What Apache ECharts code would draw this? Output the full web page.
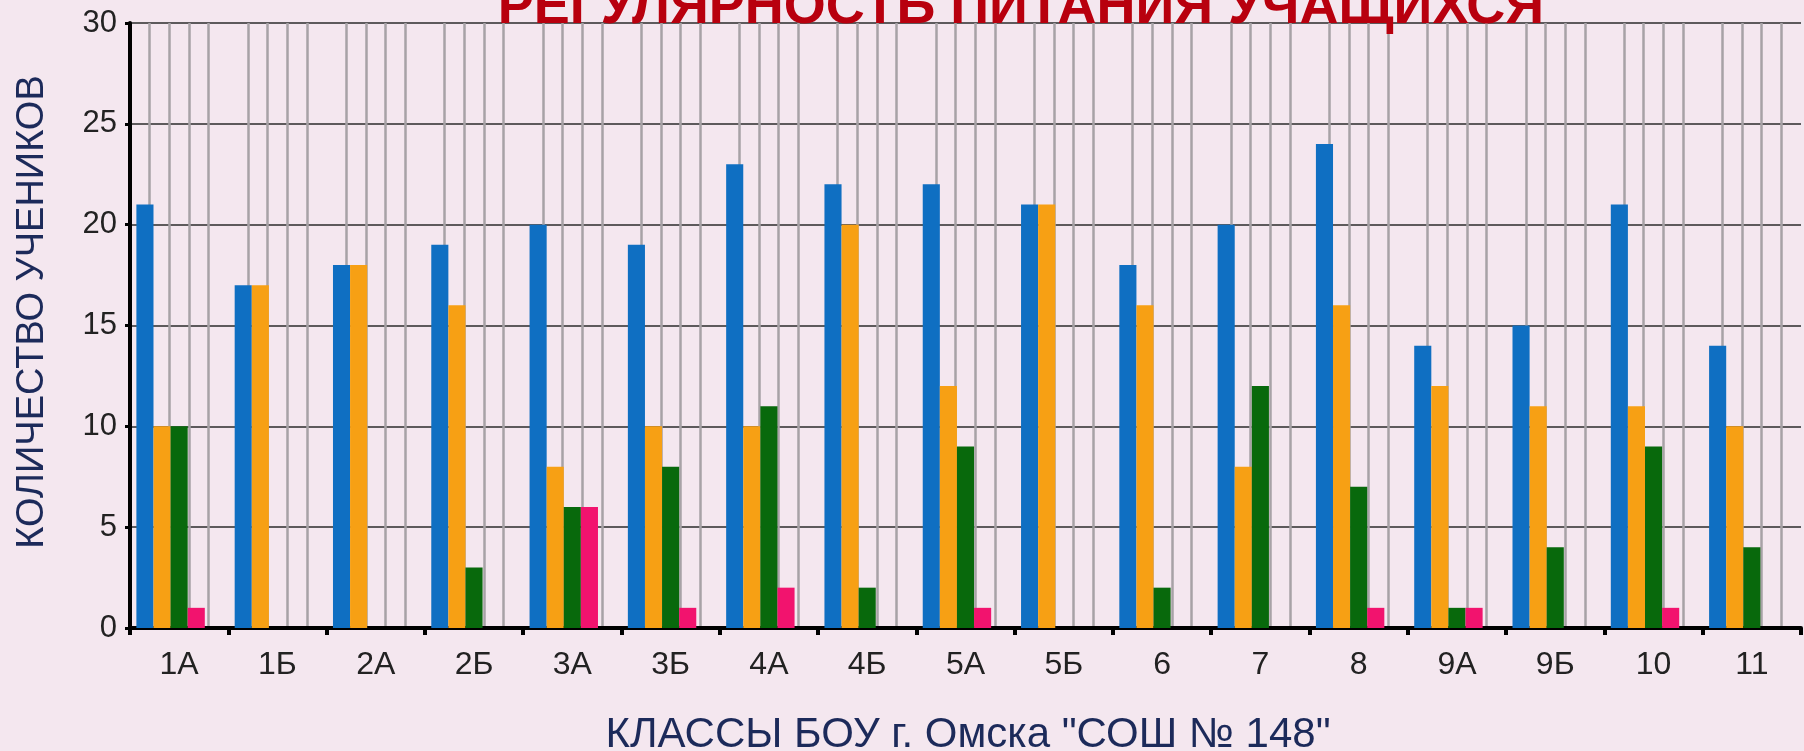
<!DOCTYPE html>
<html>
<head>
<meta charset="utf-8">
<script src="https://cdn.jsdelivr.net/npm/echarts@6/dist/echarts.min.js"></script>
<style>
  html, body { margin: 0; padding: 0; background: #f4e7ef; }
  #chart { width: 1804px; height: 751px; }
</style>
</head>
<body>
<div id="chart"></div>
<script>
// классы
const categories = ['1А', '1Б', '2А', '2Б', '3А', '3Б', '4А', '4Б', '5А', '5Б', '6', '7', '8', '9А', '9Б', '10', '11'];

// значения по сериям
const blueVals   = [21, 17, 18, 19, 20, 19, 23, 22, 22, 21, 18, 20, 24, 14, 15, 21, 14];
const orangeVals = [10, 17, 18, 16, 8, 10, 10, 20, 12, 21, 16, 8, 16, 12, 11, 11, 10];
const greenVals  = [10, 0, 0, 3, 6, 8, 11, 2, 9, 0, 2, 12, 7, 1, 4, 9, 4];
const pinkVals   = [1, 0, 0, 0, 6, 1, 2, 0, 1, 0, 0, 0, 1, 1, 0, 1, 0];
const fifthVals  = [0, 0, 0, 0, 0, 0, 0, 0, 0, 0, 0, 0, 0, 0, 0, 0, 0];

const yTicks = [0, 5, 10, 15, 20, 25, 30];

const colors = ['#0f6fc2', '#f7a014', '#08690c', '#f2136e', '#888888'];

const chartDom = document.getElementById('chart');
const myChart = echarts.init(chartDom);

const font = 'Liberation Sans, Arial, sans-serif';

function bar(data, i) {
    return {
        type: 'bar',
        data: data,
        xAxisIndex: 0,
        barGap: '0%',
        barCategoryGap: '13%',
        itemStyle: { color: colors[i] },
        z: 3
    };
}

const option = {
    backgroundColor: '#f4e7ef',
    animation: false,
    title: {
        text: 'РЕГУЛЯРНОСТЬ ПИТАНИЯ УЧАЩИХСЯ',
        left: 1016,
        textAlign: 'center',
        top: -24,
        textStyle: { color: '#b8000e', fontSize: 54, fontWeight: 'bold', fontFamily: font }
    },
    // подписи осей
    graphic: [
        {
            type: 'text',
            x: 33, y: 312,
            rotation: Math.PI / 2,
            style: {
                text: 'КОЛИЧЕСТВО УЧЕНИКОВ',
                fill: '#1c2a5a', fontSize: 38, fontFamily: font,
                align: 'center', verticalAlign: 'middle'
            }
        },
        {
            type: 'text',
            x: 968, y: 735,
            style: {
                text: 'КЛАССЫ БОУ г. Омска "СОШ № 148"',
                fill: '#1c2a5a', fontSize: 42, fontFamily: font,
                align: 'center', verticalAlign: 'middle'
            }
        }
    ],
    grid: { left: 130, right: 3, top: 23, bottom: 123, outerBoundsMode: 'none' },
    xAxis: [
        {
            type: 'category',
            data: categories,
            axisLine: { lineStyle: { color: '#000', width: 4 } },
            axisTick: { show: true, length: 7, lineStyle: { color: '#000', width: 4 } },
            axisLabel: { color: '#222', fontSize: 32, fontFamily: font, margin: 21 },
            splitLine: { show: false }
        },
        {
            // вспомогательная ось для вертикальной сетки
            type: 'value',
            min: 0,
            max: categories.length,
            interval: 1,
            show: true,
            axisLine: { show: false },
            axisTick: { show: false },
            axisLabel: { show: false },
            splitLine: { show: false },
            minorTick: { show: false, splitNumber: 5 },
            minorSplitLine: { show: true, lineStyle: { color: '#a7a2a6', width: 2.5 } }
        }
    ],
    yAxis: {
        type: 'value',
        min: 0,
        max: 30,
        interval: 5,
        axisLine: { show: true, lineStyle: { color: '#000', width: 4 } },
        axisTick: { show: true, length: 5, lineStyle: { color: '#000', width: 3 } },
        axisLabel: {
            color: '#222', fontSize: 31, fontFamily: font, margin: 13,
            formatter: v => (yTicks.includes(v) ? String(v) : '')
        },
        splitLine: { show: true, lineStyle: { color: '#5d5a5c', width: 2 } }
    },
    series: [blueVals, orangeVals, greenVals, pinkVals, fifthVals].map(bar)
};

option && myChart.setOption(option);
</script>
</body>
</html>
